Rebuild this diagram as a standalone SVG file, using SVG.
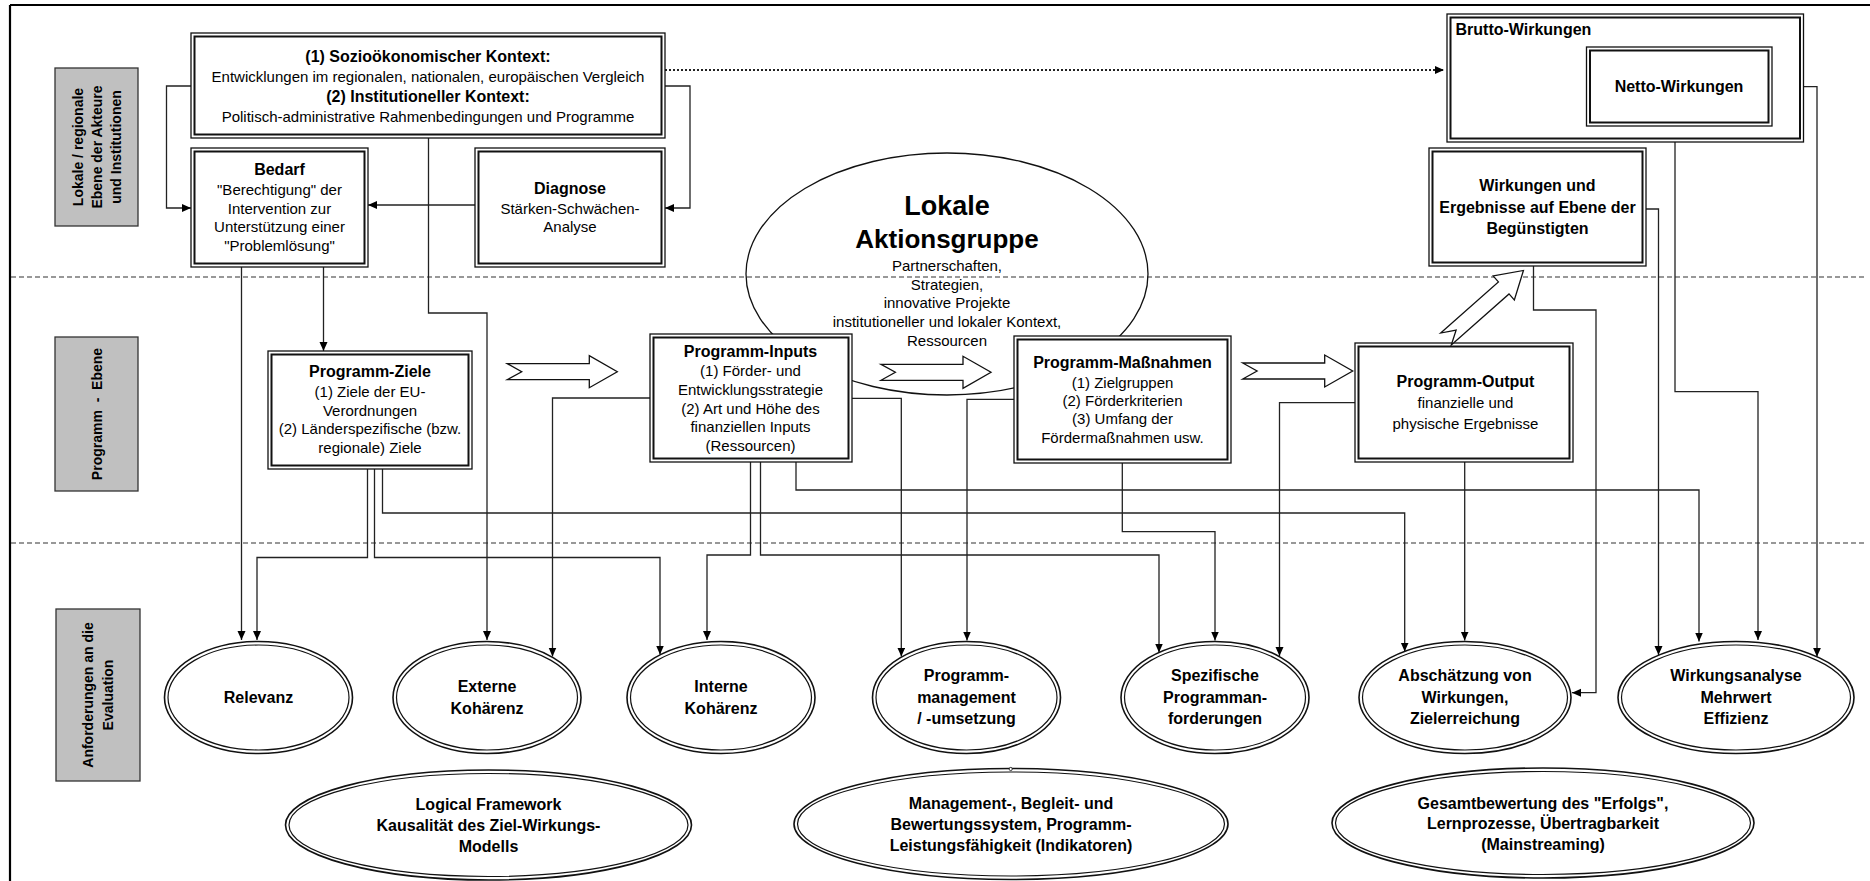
<svg xmlns="http://www.w3.org/2000/svg" xmlns:xlink="http://www.w3.org/1999/xlink" width="1870" height="881" viewBox="0 0 1870 881">
<style>
.t{font-family:"Liberation Sans",Arial,sans-serif;font-size:15px;text-anchor:middle;fill:#000}
.b{font-weight:bold;font-size:16px}
.g{font-family:"Liberation Sans",Arial,sans-serif;font-size:14px;font-weight:bold;text-anchor:middle;fill:#000}
.bo{fill:#fff;stroke:#111;stroke-width:1.3}
.bi{fill:none;stroke:#111;stroke-width:2}
.eo{fill:#fff;stroke:#111;stroke-width:1.6}
.ei{fill:none;stroke:#111;stroke-width:1.2}
.gray{fill:#c0c0c0;stroke:#333;stroke-width:1.3}
.c{fill:none;stroke:#222;stroke-width:1.3;marker-end:url(#ah)}
.dash{stroke:#333;stroke-width:1.2;stroke-dasharray:5 3}
.ha{fill:#fff;stroke:#111;stroke-width:1.3}
</style>
<defs>
<marker id="ah" markerUnits="userSpaceOnUse" markerWidth="10" markerHeight="10" refX="9" refY="4" orient="auto"><path d="M0,0 L9,4 L0,8 z" fill="#000"/></marker>
<polygon id="harrow" points="0,-8 82,-8 82,-16 110,0 82,16 82,8 0,8 14.4,0"/>
</defs>
<rect width="1870" height="881" fill="#fff"/>
<!-- frame -->
<g id="frame" stroke="#000" stroke-width="2.2" fill="none">
<line x1="10" y1="5" x2="1870" y2="5"/>
<line x1="10" y1="5" x2="10" y2="881"/>
</g>
<!-- level separators -->
<g id="separators">
<line class="dash" x1="11" y1="277" x2="1865" y2="277"/>
<line class="dash" x1="11" y1="543" x2="1865" y2="543"/>
</g>
<!-- level labels -->
<g id="label-lokal">
<rect class="gray" x="55" y="68" width="83" height="158"/>
<text class="g" transform="translate(82.5,147) rotate(-90)">Lokale / regionale</text>
<text class="g" transform="translate(102,147) rotate(-90)">Ebene der Akteure</text>
<text class="g" transform="translate(120.5,147) rotate(-90)">und Institutionen</text>
</g>
<g id="label-programm">
<rect class="gray" x="55" y="337" width="83" height="154"/>
<text class="g" transform="translate(101.5,414) rotate(-90)" xml:space="preserve">Programm  -  Ebene</text>
</g>
<g id="label-anforderungen">
<rect class="gray" x="56" y="609" width="84" height="172"/>
<text class="g" transform="translate(92.5,695) rotate(-90)">Anforderungen an die</text>
<text class="g" transform="translate(112.5,695) rotate(-90)">Evaluation</text>
</g>
<!-- LAG ellipse -->
<g id="lag">
<ellipse cx="947" cy="274" rx="201" ry="121" fill="none" stroke="#111" stroke-width="1.3"/>
<text class="t" x="947" y="215" style="font-size:27px;font-weight:bold">Lokale</text>
<text class="t" x="947" y="248" style="font-size:26px;font-weight:bold">Aktionsgruppe</text>
<text class="t" x="947" y="270.5">Partnerschaften,</text>
<text class="t" x="947" y="289.5">Strategien,</text>
<text class="t" x="947" y="308">innovative Projekte</text>
<text class="t" x="947" y="326.5">institutioneller und lokaler Kontext,</text>
<text class="t" x="947" y="345.5">Ressourcen</text>
</g>
<!-- connectors -->
<g id="connectors">
<path class="c" d="M191,86 H166.5 V208 H191"/>
<path class="c" d="M665,86 H690 V208 H665"/>
<path class="c" d="M475,205 H368"/>
<path class="c" d="M428.5,138 V313 H487 V640"/>
<path class="c" d="M241.5,267 V640"/>
<path class="c" d="M323.5,267 V351"/>
<path class="c" d="M367.5,469 V557.5 H257 V640"/>
<path class="c" d="M374.5,469 V557.5 H660 V654.5"/>
<path class="c" d="M382.5,469 V513 H1404.7 V651.5"/>
<path class="c" d="M650,398 H552.5 V656.5"/>
<path class="c" d="M750.5,462 V555 H707 V640"/>
<path class="c" d="M760.5,462 V555 H1159 V652.5"/>
<path class="c" d="M796,462 V490 H1699 V641.5"/>
<path class="c" d="M852,398.3 H901.3 V656.5"/>
<path class="c" d="M1014,399.3 H967 V640.5"/>
<path class="c" d="M1122.3,463 V531.7 H1215 V640.5"/>
<path class="c" d="M1355,402.7 H1279.5 V656"/>
<path class="c" d="M1464.7,462 V640.5"/>
<path class="c" d="M1533.5,266 V310 H1596 V692.7 H1572"/>
<path class="c" d="M1646,209 H1658.5 V655"/>
<path class="c" d="M1675,142 V391.7 H1758 V640"/>
<path class="c" d="M1772,86.7 H1817 V656.7"/>
<path class="c" d="M665,70 H1444" style="stroke-width:2.2;stroke-dasharray:2 2"/>
</g>
<!-- top level nodes -->
<g id="kontext">
<rect class="bo" x="191" y="33" width="474" height="105"/>
<rect class="bi" x="194.5" y="36.5" width="467" height="98"/>
<text class="t b" x="428" y="62">(1) Sozioökonomischer Kontext:</text>
<text class="t" x="428" y="82">Entwicklungen im regionalen, nationalen, europäischen Vergleich</text>
<text class="t b" x="428" y="102">(2) Institutioneller Kontext:</text>
<text class="t" x="428" y="122">Politisch-administrative Rahmenbedingungen und Programme</text>
</g>
<g id="bedarf">
<rect class="bo" x="191" y="148" width="177" height="119"/>
<rect class="bi" x="194.5" y="151.5" width="170" height="112"/>
<text class="t b" x="279.5" y="175">Bedarf</text>
<text class="t" x="279.5" y="195">"Berechtigung" der</text>
<text class="t" x="279.5" y="213.5">Intervention zur</text>
<text class="t" x="279.5" y="232">Unterstützung einer</text>
<text class="t" x="279.5" y="250.5">"Problemlösung"</text>
</g>
<g id="diagnose">
<rect class="bo" x="475" y="148" width="190" height="119"/>
<rect class="bi" x="478.5" y="151.5" width="183" height="112"/>
<text class="t b" x="570" y="193.5">Diagnose</text>
<text class="t" x="570" y="213.5">Stärken-Schwächen-</text>
<text class="t" x="570" y="232">Analyse</text>
</g>
<g id="brutto">
<rect class="bo" x="1447" y="14" width="356.5" height="128"/>
<rect class="bi" x="1450.5" y="17.5" width="349.5" height="121"/>
<text class="t b" x="1455.5" y="34.5" style="text-anchor:start">Brutto-Wirkungen</text>
</g>
<g id="netto">
<rect class="bo" x="1586.5" y="47" width="185.5" height="79"/>
<rect class="bi" x="1590" y="50.5" width="178.5" height="72"/>
<text class="t b" x="1679" y="92">Netto-Wirkungen</text>
</g>
<g id="wirkungen">
<rect class="bo" x="1429" y="148" width="217" height="118"/>
<rect class="bi" x="1432.5" y="151.5" width="210" height="111"/>
<text class="t b" x="1537.5" y="190.5">Wirkungen und</text>
<text class="t b" x="1537.5" y="212.5">Ergebnisse auf Ebene der</text>
<text class="t b" x="1537.5" y="233.5">Begünstigten</text>
</g>
<!-- program level nodes -->
<g id="ziele">
<rect class="bo" x="268" y="351" width="204" height="118"/>
<rect class="bi" x="271.5" y="354.5" width="197" height="111"/>
<text class="t b" x="370" y="377">Programm-Ziele</text>
<text class="t" x="370" y="397">(1) Ziele der EU-</text>
<text class="t" x="370" y="415.5">Verordnungen</text>
<text class="t" x="370" y="434">(2) Länderspezifische (bzw.</text>
<text class="t" x="370" y="452.5">regionale) Ziele</text>
</g>
<g id="inputs">
<rect class="bo" x="650" y="334" width="202" height="128"/>
<rect class="bi" x="653.5" y="337.5" width="195" height="121"/>
<text class="t b" x="750.5" y="356.5">Programm-Inputs</text>
<text class="t" x="750.5" y="376">(1) Förder- und</text>
<text class="t" x="750.5" y="395">Entwicklungsstrategie</text>
<text class="t" x="750.5" y="413.5">(2) Art und Höhe des</text>
<text class="t" x="750.5" y="432">finanziellen Inputs</text>
<text class="t" x="750.5" y="451">(Ressourcen)</text>
</g>
<g id="massnahmen">
<rect class="bo" x="1014" y="336" width="217" height="127"/>
<rect class="bi" x="1017.5" y="339.5" width="210" height="120"/>
<text class="t b" x="1122.5" y="367.5">Programm-Maßnahmen</text>
<text class="t" x="1122.5" y="387.5">(1) Zielgruppen</text>
<text class="t" x="1122.5" y="405.5">(2) Förderkriterien</text>
<text class="t" x="1122.5" y="424">(3) Umfang der</text>
<text class="t" x="1122.5" y="442.5">Fördermaßnahmen usw.</text>
</g>
<g id="output">
<rect class="bo" x="1355" y="343" width="218" height="119"/>
<rect class="bi" x="1358.5" y="346.5" width="211" height="112"/>
<text class="t b" x="1465.5" y="387">Programm-Output</text>
<text class="t" x="1465.5" y="408">finanzielle und</text>
<text class="t" x="1465.5" y="428.5">physische Ergebnisse</text>
</g>
<!-- hollow flow arrows -->
<g id="flow-arrows">
<use xlink:href="#harrow" class="ha" x="507.3" y="371.7"/>
<use xlink:href="#harrow" class="ha" x="881" y="372.3"/>
<use xlink:href="#harrow" class="ha" x="1242.7" y="371"/>
<use xlink:href="#harrow" class="ha" transform="translate(1446,339) rotate(-41.5) scale(0.94,1)"/>
</g>
<!-- evaluation requirements -->
<g id="relevanz">
<ellipse class="eo" cx="258.5" cy="697.5" rx="94" ry="56"/>
<ellipse class="ei" cx="258.5" cy="697.5" rx="90.5" ry="52.5"/>
<text class="t b" x="258.5" y="703">Relevanz</text>
</g>
<g id="externe">
<ellipse class="eo" cx="487" cy="697.5" rx="94" ry="56"/>
<ellipse class="ei" cx="487" cy="697.5" rx="90.5" ry="52.5"/>
<text class="t b" x="487" y="692">Externe</text>
<text class="t b" x="487" y="713.5">Kohärenz</text>
</g>
<g id="interne">
<ellipse class="eo" cx="721" cy="697.5" rx="94" ry="56"/>
<ellipse class="ei" cx="721" cy="697.5" rx="90.5" ry="52.5"/>
<text class="t b" x="721" y="692">Interne</text>
<text class="t b" x="721" y="713.5">Kohärenz</text>
</g>
<g id="management">
<ellipse class="eo" cx="966.5" cy="697.5" rx="94" ry="56"/>
<ellipse class="ei" cx="966.5" cy="697.5" rx="90.5" ry="52.5"/>
<text class="t b" x="966.5" y="681">Programm-</text>
<text class="t b" x="966.5" y="702.5">management</text>
<text class="t b" x="966.5" y="724">/ -umsetzung</text>
</g>
<g id="spezifische">
<ellipse class="eo" cx="1215" cy="697.5" rx="94" ry="56"/>
<ellipse class="ei" cx="1215" cy="697.5" rx="90.5" ry="52.5"/>
<text class="t b" x="1215" y="681">Spezifische</text>
<text class="t b" x="1215" y="702.5">Programman-</text>
<text class="t b" x="1215" y="724">forderungen</text>
</g>
<g id="abschaetzung">
<ellipse class="eo" cx="1465" cy="697.5" rx="106" ry="56"/>
<ellipse class="ei" cx="1465" cy="697.5" rx="102.5" ry="52.5"/>
<text class="t b" x="1465" y="681">Abschätzung von</text>
<text class="t b" x="1465" y="702.5">Wirkungen,</text>
<text class="t b" x="1465" y="724">Zielerreichung</text>
</g>
<g id="wirkungsanalyse">
<ellipse class="eo" cx="1736" cy="697.5" rx="118" ry="56"/>
<ellipse class="ei" cx="1736" cy="697.5" rx="114.5" ry="52.5"/>
<text class="t b" x="1736" y="681">Wirkungsanalyse</text>
<text class="t b" x="1736" y="702.5">Mehrwert</text>
<text class="t b" x="1736" y="724">Effizienz</text>
</g>
<g id="logical-framework">
<ellipse class="eo" cx="488.5" cy="825" rx="203" ry="55"/>
<ellipse class="ei" cx="488.5" cy="825" rx="199.5" ry="51.5"/>
<text class="t b" x="488.5" y="809.5">Logical Framework</text>
<text class="t b" x="488.5" y="831">Kausalität des Ziel-Wirkungs-</text>
<text class="t b" x="488.5" y="852">Modells</text>
</g>
<g id="begleitsystem">
<ellipse class="eo" cx="1011" cy="824" rx="217" ry="55.5"/>
<ellipse class="ei" cx="1011" cy="824" rx="213.5" ry="52"/>
<circle cx="1010.7" cy="769" r="1.6" fill="#fff" stroke="#111" stroke-width="0.8"/>
<text class="t b" x="1011" y="808.5">Management-, Begleit- und</text>
<text class="t b" x="1011" y="830">Bewertungssystem, Programm-</text>
<text class="t b" x="1011" y="851">Leistungsfähigkeit (Indikatoren)</text>
</g>
<g id="gesamtbewertung">
<ellipse class="eo" cx="1543" cy="823" rx="211" ry="55"/>
<ellipse class="ei" cx="1543" cy="823" rx="207.5" ry="51.5"/>
<text class="t b" x="1543" y="808.5">Gesamtbewertung des "Erfolgs",</text>
<text class="t b" x="1543" y="829">Lernprozesse, Übertragbarkeit</text>
<text class="t b" x="1543" y="850">(Mainstreaming)</text>
</g>
</svg>
